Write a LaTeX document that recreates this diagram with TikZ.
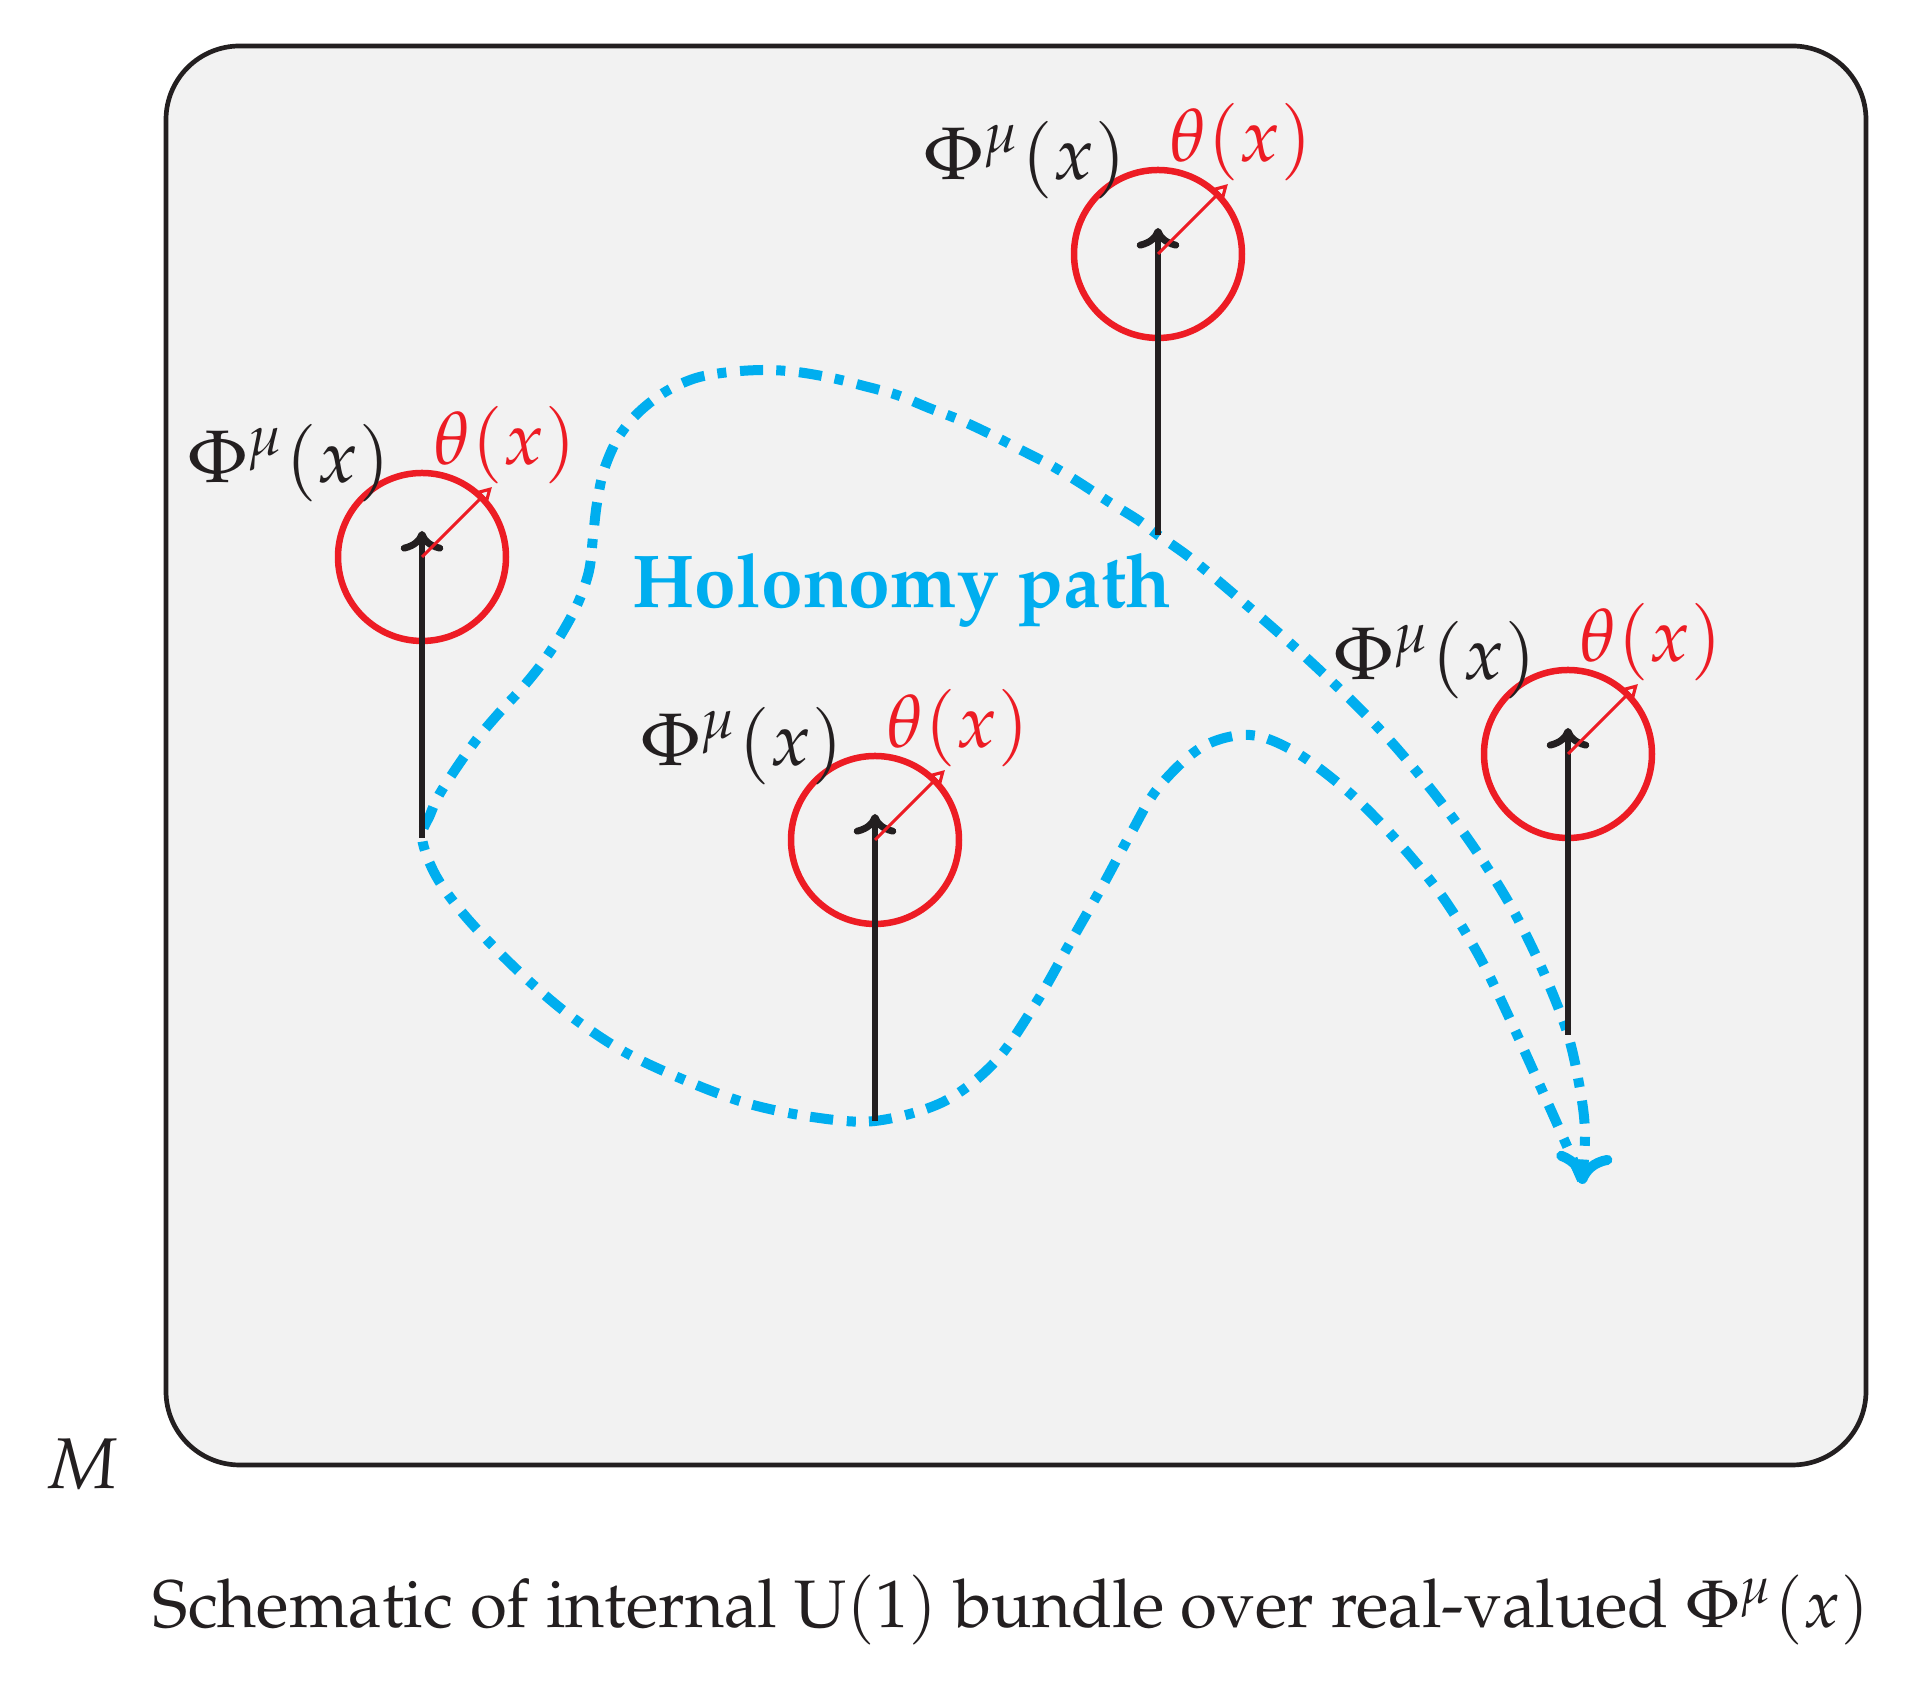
\documentclass[tikz,border=0pt]{standalone}
\usepackage[T1]{fontenc}
\usepackage{mathpazo}
\usetikzlibrary{arrows.meta,calc}
\definecolor{inkblack}{RGB}{35,31,32}
\definecolor{inkred}{RGB}{237,28,36}
\definecolor{inkblue}{RGB}{0,174,239}
\definecolor{panel}{RGB}{242,242,242}
\tikzset{
  manifold/.style={draw=inkblack, fill=panel, line width=0.75pt, rounded corners=11.8pt},
  ring/.style={circle, draw=inkred, line width=1.04pt, minimum size=26.88pt, inner sep=0pt},
  phiarrow/.style={draw=inkblack, line width=1.1pt, -{To[length=3.3pt,width=6.8pt]}},
  thetaarrow/.style={draw=inkred, line width=0.5pt, -{Triangle[open,length=2.4pt,width=2.6pt]}},
  philabel/.style={anchor=base, text=inkblack, inner sep=0pt, font=\fontsize{11.9}{14}\selectfont},
  thetalabel/.style={anchor=base, text=inkred, inner sep=0pt, font=\fontsize{11.9}{14}\selectfont},
  holo/.style={draw=inkblue, line width=1.6pt, dash pattern=on 3.7pt off 2.1pt on 1.45pt off 2.2pt, -{To[length=5pt,width=9pt]}},
  plain/.style={anchor=base, text=inkblack, inner sep=0pt}
}
\begin{document}
\begin{tikzpicture}[x=0.16pt, y=-0.16pt, font=\fontsize{11.5}{14}\selectfont]
\useasboundingbox (0,0) rectangle (1906,1693);
\fill[white] (0,0) rectangle (1906,1693);
\draw[manifold] (166,46) rectangle (1866,1465);

\foreach \i/\cx/\cy in {1/422/557, 2/1158/254, 3/875/840, 4/1568/754} {
  \coordinate (b\i) at (\cx,{\cy+281});
  \coordinate (t\i) at (\cx,{\cy-26});
  \coordinate (e\i) at ({\cx+70},{\cy-70});
}

% holonomy loop
\draw[holo] plot[smooth, tension=0.55] coordinates {
  (1582,1180) (1550,1108) (1508,1015) (1478,954) (1442,896) (1399,843)
  (1352,795) (1297,753) (1250,735) (1202,747) (1158,788) (1130,835)
  (1103,885) (1070,943) (1036,1003) (995,1062) (943,1102) (b3)
  (812,1117) (746,1103) (682,1079) (621,1050) (564,1011) (513,966)
  (466,917) (436,876) (b1) (430,815) (439,795) (457,767) (477,739)
  (499,713) (523,687) (543,662) (562,633) (578,603) (589,571) (593,537)
  (597,503) (604,470) (618,438) (638,413) (665,392) (696,378) (730,372)
  (765,370) (797,372) (832,378) (864,386) (897,395) (929,408) (960,420)
  (992,435) (1021,450) (1052,466) (1080,483) (1109,502) (1138,520) (b2)
  (1193,560) (1250,608) (1300,652) (1353,702) (1394,745) (1437,797)
  (1477,852) (1513,910) (1543,971) (b4) (1581,1095) (1585,1135) (1582,1184)
};

\foreach \i/\cx/\cy in {1/422/557, 2/1158/254, 3/875/840, 4/1568/754} {
  \node[ring] (c\i) at (\cx,\cy) {};
  \draw[phiarrow] (b\i) -- (t\i);
  \draw[thetaarrow] (c\i.center) -- (e\i);
  \node[philabel] (p\i) at ({\cx-133},{\cy-74}) {$\Phi^\mu(x)$};
  \node[thetalabel] (q\i) at ({\cx+83},{\cy-92}) {$\theta(x)$};
}

\node[anchor=base, text=inkblue, inner sep=0pt, font=\fontsize{12}{14}\selectfont\bfseries] (hol) at (902,608) {Holonomy path};
\node[plain] (m) at (82,1489) {$M$};
\node[plain, font=\fontsize{10.75}{13}\selectfont] (cap) at (1011,1628) {Schematic of internal U$(1)$ bundle over real-valued $\Phi^\mu(x)$};
\end{tikzpicture}
\end{document}
